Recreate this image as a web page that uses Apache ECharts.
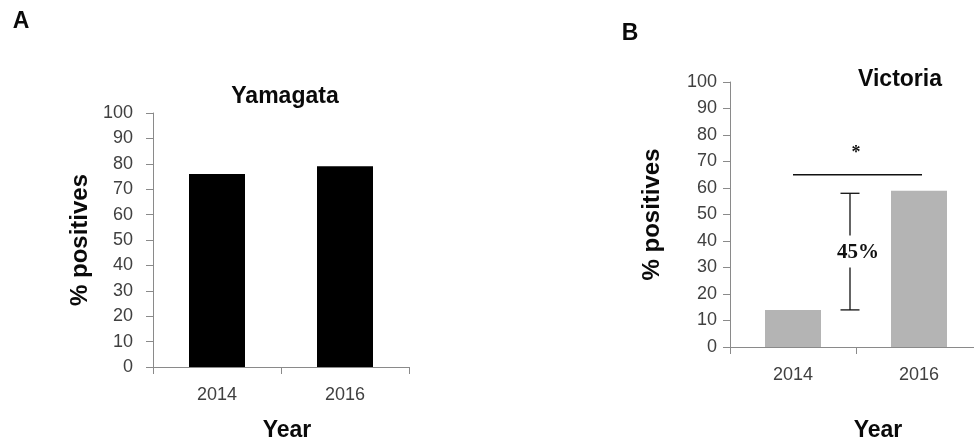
<!DOCTYPE html>
<html>
<head>
<meta charset="utf-8">
<script src="https://cdn.jsdelivr.net/npm/echarts@6/dist/echarts.min.js"></script>
<style>
html,body{margin:0;padding:0;background:#fff;overflow:hidden;width:974px;height:447px;}
#chart{width:990px;height:447px;}
</style>
</head>
<body>
<div id="chart"></div>
<script>
// ---- data ----
const categories = ['2014', '2016'];
const yamagataValues = [76, 79];
const victoriaValues = [14, 59];
const yTicks = { min: 0, max: 100, interval: 10 };
const panelLabels = ['A', 'B'];
const panelTitles = ['Yamagata', 'Victoria'];
const xAxisName = 'Year';
const yAxisName = '% positives';
// significance annotation in panel B
const sigLineValue = 65;
const sigStarValue = 73;
const sigStar = '*';
const bracketRange = [14, 58];
const bracketLabel = '45%';

const font = 'Liberation Sans, Arial, sans-serif';
const axisColor = '#8a8a8a';
const tickColor = '#404040';

function yAxisCfg(gridIndex, nameGap, labelMargin) {
  return {
    gridIndex, type: 'value', min: yTicks.min, max: yTicks.max, interval: yTicks.interval,
    name: yAxisName, nameLocation: 'middle', nameGap,
    nameTextStyle: { fontFamily: font, fontWeight: 'bold', fontSize: 24, color: '#0a0a0a' },
    axisLine: { show: true, lineStyle: { color: axisColor, width: 1 } },
    axisTick: { show: true, inside: false, length: 7, lineStyle: { color: axisColor } },
    axisLabel: { fontFamily: font, fontSize: 18, color: tickColor, margin: labelMargin },
    splitLine: { show: false }
  };
}
function xAxisCfg(gridIndex, nameGap, namePad) {
  return {
    gridIndex, type: 'category', data: categories, boundaryGap: true,
    name: xAxisName, nameLocation: 'middle', nameGap,
    nameTextStyle: { fontFamily: font, fontWeight: 'bold', fontSize: 23, color: '#0a0a0a', padding: namePad },
    axisLine: { show: true, lineStyle: { color: axisColor, width: 1 } },
    axisTick: { show: true, inside: false, length: 7, alignWithLabel: false, lineStyle: { color: axisColor } },
    axisLabel: { fontFamily: font, fontSize: 18, color: tickColor, margin: 19 },
    splitLine: { show: false }
  };
}

const chart = echarts.init(document.getElementById('chart'), null, { renderer: 'canvas' });

chart.setOption({
  backgroundColor: '#ffffff',
  animation: false,
  grid: [
    { left: 153, top: 113, width: 256, height: 257 },
    { left: 730, top: 82, width: 252, height: 268 }
  ],
  xAxis: [xAxisCfg(0, 52, [0, 0, 0, 12]), xAxisCfg(1, 72, [0, 0, 0, 44])],
  yAxis: [yAxisCfg(0, 61, 20), yAxisCfg(1, 66, 13)],
  graphic: [
    { type: 'text', x: 21, y: 22, style: { text: panelLabels[0], font: 'bold 23px ' + font, fill: '#0a0a0a', textAlign: 'center', textVerticalAlign: 'middle' } },
    { type: 'text', x: 630, y: 34, style: { text: panelLabels[1], font: 'bold 23px ' + font, fill: '#0a0a0a', textAlign: 'center', textVerticalAlign: 'middle' } },
    { type: 'text', x: 285, y: 97, style: { text: panelTitles[0], font: 'bold 23px ' + font, fill: '#0a0a0a', textAlign: 'center', textVerticalAlign: 'middle' } },
    { type: 'text', x: 900, y: 80, style: { text: panelTitles[1], font: 'bold 23px ' + font, fill: '#0a0a0a', textAlign: 'center', textVerticalAlign: 'middle' } }
  ],
  series: [
    {
      type: 'bar', xAxisIndex: 0, yAxisIndex: 0, data: yamagataValues,
      barWidth: 56, itemStyle: { color: '#000000' }, silent: true
    },
    {
      type: 'bar', xAxisIndex: 1, yAxisIndex: 1, data: victoriaValues,
      barWidth: 56, itemStyle: { color: '#b4b4b4' }, silent: true
    },
    {
      type: 'custom', xAxisIndex: 1, yAxisIndex: 1, silent: true,
      data: [[0, sigLineValue]],
      renderItem: function (params, api) {
        const a = api.coord([0, sigLineValue]);
        const b = api.coord([1, sigLineValue]);
        const midX = (a[0] + b[0]) / 2;
        const star = api.coord([0, sigStarValue]);
        const top = api.coord([0, bracketRange[1]]);
        const bot = api.coord([0, bracketRange[0]]);
        const lx = midX - 6;
        const midY = (top[1] + bot[1]) / 2;
        const gapHalf = 16;
        const cap = 9.5;
        const ls = { stroke: '#111', lineWidth: 1.3 };
        return {
          type: 'group',
          children: [
            { type: 'line', shape: { x1: a[0], y1: a[1], x2: b[0] + 3, y2: b[1] }, style: ls },
            { type: 'text', x: midX, y: star[1], style: { text: sigStar, font: 'bold 18px Liberation Serif, Times New Roman, serif', fill: '#111', textAlign: 'center', textVerticalAlign: 'middle' } },
            { type: 'line', shape: { x1: lx - cap, y1: top[1], x2: lx + cap, y2: top[1] }, style: ls },
            { type: 'line', shape: { x1: lx, y1: top[1], x2: lx, y2: midY - gapHalf }, style: ls },
            { type: 'line', shape: { x1: lx, y1: midY + gapHalf, x2: lx, y2: bot[1] }, style: ls },
            { type: 'line', shape: { x1: lx - cap, y1: bot[1], x2: lx + cap, y2: bot[1] }, style: ls },
            { type: 'text', x: lx + 8, y: midY + 1, style: { text: bracketLabel, font: 'bold 21px Liberation Serif, Times New Roman, serif', fill: '#111', textAlign: 'center', textVerticalAlign: 'middle' } }
          ]
        };
      }
    }
  ]
});
</script>
</body>
</html>
